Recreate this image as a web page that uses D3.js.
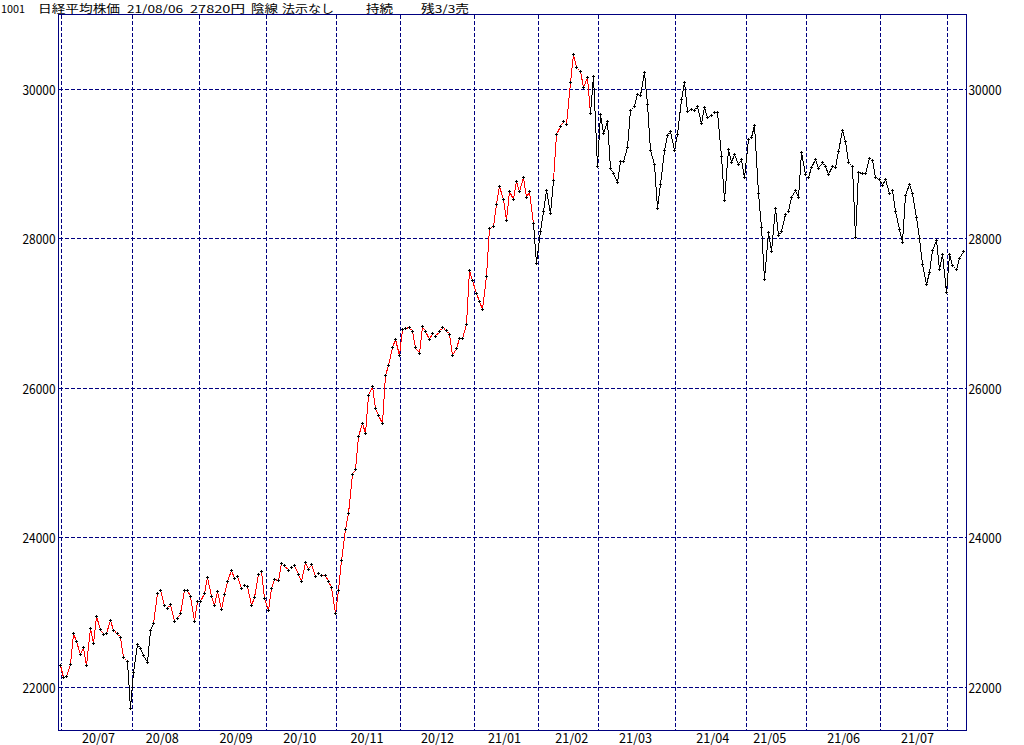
<!DOCTYPE html>
<html>
<head>
<meta charset="utf-8">
<script src="https://cdn.jsdelivr.net/npm/d3@7"></script>
<style>
  body { margin: 0; background: #fff; }
  svg { display: block; }
  text { font-family: "Noto Sans CJK JP", sans-serif; font-size: 13px; fill: #000; }
</style>
</head>
<body>
<svg id="chart" width="1024" height="745"></svg>
<script>
// months shown, and the trading days in each of them
const months = ["20/06", "20/07", "20/08", "20/09", "20/10", "20/11", "20/12",
  "21/01", "21/02", "21/03", "21/04", "21/05", "21/06", "21/07", "21/08"];
const tradingDays = [
  [30],
  [1, 2, 3, 6, 7, 8, 9, 10, 13, 14, 15, 16, 17, 20, 21, 22, 27, 28, 29, 30, 31],
  [3, 4, 5, 6, 7, 11, 12, 13, 14, 17, 18, 19, 20, 21, 24, 25, 26, 27, 28, 31],
  [1, 2, 3, 4, 7, 8, 9, 10, 11, 14, 15, 16, 17, 18, 23, 24, 25, 28, 29, 30],
  [2, 5, 6, 7, 8, 9, 12, 13, 14, 15, 16, 19, 20, 21, 22, 23, 26, 27, 28, 29, 30],
  [2, 4, 5, 6, 9, 10, 11, 12, 13, 16, 17, 18, 19, 20, 24, 25, 26, 27, 30],
  [1, 2, 3, 4, 7, 8, 9, 10, 11, 14, 15, 16, 17, 18, 21, 22, 23, 24, 25, 28, 29, 30],
  [4, 5, 6, 7, 8, 12, 13, 14, 15, 18, 19, 20, 21, 22, 25, 26, 27, 28, 29],
  [1, 2, 3, 4, 5, 8, 9, 10, 12, 15, 16, 17, 18, 19, 22, 24, 25, 26],
  [1, 2, 3, 4, 5, 8, 9, 10, 11, 12, 15, 16, 17, 18, 19, 22, 23, 24, 25, 26, 29, 30, 31],
  [1, 2, 5, 6, 7, 8, 9, 12, 13, 14, 15, 16, 19, 20, 21, 22, 23, 26, 27, 28, 30],
  [6, 7, 10, 11, 12, 13, 14, 17, 18, 19, 20, 21, 24, 25, 26, 27, 28, 31],
  [1, 2, 3, 4, 7, 8, 9, 10, 11, 14, 15, 16, 17, 18, 21, 22, 23, 24, 25, 28, 29, 30],
  [1, 2, 5, 6, 7, 8, 9, 12, 13, 14, 15, 16, 19, 20, 21, 26, 27, 28, 29, 30],
  [2, 3, 4, 5, 6]
];
// daily closes, one per trading day above
const closes = [
  22288,
  22121, 22145, 22306, 22714, 22614, 22438, 22529, 22290, 22784, 22587, 22945, 22770, 22696, 22717, 22884, 22751, 22715, 22657, 22397, 22339, 21710,
  22195, 22573, 22514, 22418, 22329, 22750, 22843, 23249, 23289, 23096, 23051, 23110, 22880, 22920, 22985, 23296, 23290, 23208, 22882, 23139,
  23138, 23247, 23465, 23205, 23089, 23274, 23032, 23235, 23406, 23559, 23454, 23475, 23319, 23360, 23346, 23087, 23204, 23511, 23539, 23185,
  23029, 23312, 23433, 23422, 23647, 23619, 23558, 23601, 23626, 23507, 23410, 23671, 23567, 23639, 23474, 23516, 23494, 23485, 23418, 23331, 22977,
  23295, 23695, 24105, 24325, 24839, 24905, 25349, 25520, 25385, 25906, 26014, 25728, 25634, 25527, 26165, 26296, 26537, 26644, 26433,
  26787, 26800, 26809, 26751, 26547, 26467, 26817, 26756, 26652, 26732, 26687, 26757, 26806, 26763, 26714, 26436, 26524, 26668, 26656, 26854, 27568, 27444,
  27258, 27158, 27055, 27490, 28139, 28164, 28456, 28698, 28519, 28242, 28633, 28523, 28756, 28631, 28822, 28546, 28635, 28197, 27663,
  28091, 28362, 28646, 28341, 28779, 29388, 29505, 29562, 29520, 30084, 30467, 30292, 30236, 30017, 30156, 29671, 30168, 28966,
  29663, 29408, 29559, 28930, 28864, 28743, 29027, 29036, 29211, 29717, 29766, 29921, 29914, 30216, 29792, 29174, 28995, 28405, 28729, 29176, 29384, 29432, 29178,
  29388, 29854, 30089, 29696, 29730, 29708, 29768, 29538, 29751, 29620, 29642, 29683, 29685, 29100, 28508, 29188, 29020, 29126, 28991, 29053, 28812,
  29331, 29357, 29518, 28608, 28147, 27448, 28084, 27824, 28406, 28044, 28098, 28317, 28364, 28553, 28642, 28549, 29149, 28860,
  28814, 28946, 29058, 28941, 29019, 28963, 28860, 28958, 28948, 29161, 29441, 29291, 29018, 28964, 28010, 28884, 28874, 28875, 29066, 29048, 28812, 28791,
  28707, 28783, 28598, 28643, 28366, 28118, 27940, 28569, 28718, 28608, 28279, 28003, 27652, 27388, 27548, 27833, 27970, 27581, 27782, 27283,
  27781, 27641, 27584, 27728, 27820
];
// periods where the position is held (line drawn red)
const holdFrom = ["20/06/30", "20/08/12", "21/02/05"];
const holdTo = ["20/07/30", "21/01/28", "21/02/24"];
const yTicks = [22000, 24000, 26000, 28000, 30000];
const labelledMonths = ["20/07", "20/08", "20/09", "20/10", "20/11", "20/12",
  "21/01", "21/02", "21/03", "21/04", "21/05", "21/06", "21/07"];
const titleParts = ["1001", "日経平均株価", "21/08/06", "27820円", "陰線", "法示なし", "持続", "残3/3売"];

// one date string per trading day
const dates = [];
months.forEach((m, i) => tradingDays[i].forEach(d => dates.push(m + "/" + String(d).padStart(2, "0"))));
const data = dates.map((d, i) => ({ date: d, close: closes[i] }));

const svg = d3.select("#chart");
const navy = "#000080";
const frame = { left: 58, right: 966, top: 14, bottom: 730 };

const x = d3.scalePoint().domain(dates).range([60, 963]);
const y = d3.scaleLinear().domain([22000, 30000]).range([687, 89]);
const snap = v => Math.floor(v) + 0.5;   // centre of a pixel
const sx = d => snap(x(d.date));
const sy = d => snap(y(d.close));

// title (kept a little small so it stays inside the top edge)
svg.append("text")
  .attr("y", 12.8)
  .style("font-size", "11px")
  .selectAll("tspan")
  .data(titleParts)
  .join("tspan")
  .attr("x", (d, i) => [1, 38, 127, 190, 251, 282, 366, 421][i])
  .attr("textLength", (d, i) => [24, 82, 56, 55, 27, 52, 27, 48][i])
  .attr("lengthAdjust", "spacingAndGlyphs")
  .text(d => d);

// dashed grid: horizontal at the ticks, vertical between months
const grid = svg.append("g")
  .attr("stroke", navy)
  .attr("stroke-dasharray", "4,2")
  .attr("shape-rendering", "crispEdges");

grid.selectAll(".h")
  .data(yTicks)
  .join("line")
  .attr("x1", frame.left + 1).attr("x2", frame.right)
  .attr("y1", d => snap(y(d))).attr("y2", d => snap(y(d)));

const monthStarts = months.slice(1).map(m => dates.findIndex(d => d.startsWith(m)));
grid.selectAll(".v")
  .data(monthStarts)
  .join("line")
  .attr("x1", i => snap((x(dates[i - 1]) + x(dates[i])) / 2))
  .attr("x2", i => snap((x(dates[i - 1]) + x(dates[i])) / 2))
  .attr("y1", frame.top + 1).attr("y2", frame.bottom);

// frame
svg.append("rect")
  .attr("x", frame.left + 0.5).attr("y", frame.top + 0.5)
  .attr("width", frame.right - frame.left).attr("height", frame.bottom - frame.top)
  .attr("fill", "none").attr("stroke", navy)
  .attr("shape-rendering", "crispEdges");

// y labels on both sides
const yLabels = svg.append("g");
yLabels.selectAll(".yl")
  .data(yTicks)
  .join("text")
  .attr("x", 55.5).attr("y", d => snap(y(d)) + 5.5)
  .attr("text-anchor", "end")
  .attr("textLength", 33).attr("lengthAdjust", "spacingAndGlyphs")
  .text(d => d);
yLabels.selectAll(".yr")
  .data(yTicks)
  .join("text")
  .attr("x", 968.5).attr("y", d => snap(y(d)) + 5.5)
  .attr("textLength", 33).attr("lengthAdjust", "spacingAndGlyphs")
  .text(d => d);

// month labels, centred near the middle of each month
svg.append("g").selectAll("text")
  .data(labelledMonths)
  .join("text")
  .attr("x", m => {
    const mid = dates.filter(d => d.startsWith(m) && +d.slice(6) <= 15).pop();
    return x(mid) + 1.5;
  })
  .attr("y", 742.5)
  .attr("text-anchor", "middle")
  .attr("textLength", 33).attr("lengthAdjust", "spacingAndGlyphs")
  .text(m => m);

// segment colour: red while holding
const held = i => holdFrom.some((f, k) => i >= dates.indexOf(f) && i < dates.indexOf(holdTo[k]));
const runs = [];
for (let i = 0; i < data.length - 1; i++) {
  const h = held(i);
  if (runs.length && runs[runs.length - 1].held === h) runs[runs.length - 1].end = i + 1;
  else runs.push({ held: h, start: i, end: i + 1 });
}

const line = d3.line().x(sx).y(sy);
svg.append("g")
  .attr("fill", "none")
  .attr("stroke-width", 1)
  .attr("shape-rendering", "crispEdges")
  .selectAll("path")
  .data(runs)
  .join("path")
  .attr("stroke", r => r.held ? "#ff0000" : "#000000")
  .attr("d", r => line(data.slice(r.start, r.end + 1)));

// "+" markers on every close, with a small white knock-out behind each
const marks = svg.append("g").attr("shape-rendering", "crispEdges");
marks.selectAll("rect")
  .data(data)
  .join("rect")
  .attr("x", d => Math.floor(x(d.date)) - 1)
  .attr("y", d => Math.floor(y(d.close)) - 1)
  .attr("width", 3).attr("height", 3)
  .attr("fill", "#fff");
marks.selectAll("path")
  .data(data)
  .join("path")
  .attr("stroke", "#000")
  .attr("d", d => {
    const cx = Math.floor(x(d.date)), cy = Math.floor(y(d.close));
    return `M${cx - 1},${cy + 0.5}h3M${cx + 0.5},${cy - 1}v3`;
  });
</script>
</body>
</html>
